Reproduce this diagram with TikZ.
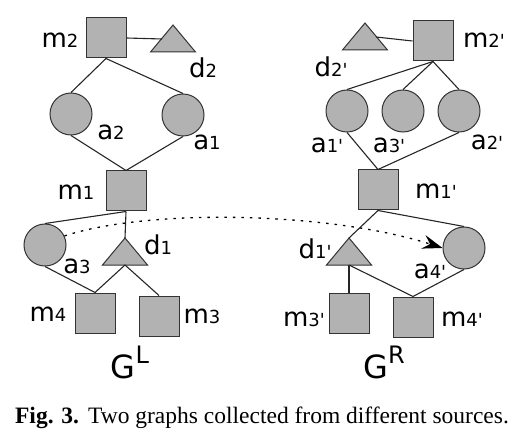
\documentclass[tikz,border=0pt]{standalone}
\usepackage{fontspec}
\setmainfont{Liberation Serif}
\newfontfamily\lblfont{DejaVu Sans}
\usetikzlibrary{arrows.meta}
\newcommand{\gn}[2]{{\fontsize{26}{26}\selectfont #1}{\fontsize{18}{18}\selectfont #2}}
\newcommand{\pr}{\textquotesingle}
\newcommand{\trinode}[3]{%
  \draw[tri] (#2-22.5,#3+13) -- (#2,#3-14) coordinate (#1-t) -- (#2+22.5,#3+13) -- cycle;
  \coordinate (#1-b) at (#2,#3+13);
  \coordinate (#1-w) at (#2-11,#3);
  \coordinate (#1-e) at (#2+11,#3);
}
\tikzset{
  box/.style={draw=black!80, fill=gray!60, minimum size=40pt, inner sep=0pt, line width=1pt},
  agent/.style={circle, draw=black!80, fill=gray!60, minimum size=42pt, inner sep=0pt, line width=1pt},
  tri/.style={draw=black!80, fill=gray!60, line width=1pt},
  lbl/.style={anchor=base, inner sep=0pt, font=\lblfont},
  edge/.style={line width=1.1pt, black!85},
}

\begin{document}
\begin{tikzpicture}[x=1pt, y=-1pt]
  \useasboundingbox (0,0) rectangle (532,438);
  % left graph
  \node[box] (m2L) at (106,38) {};
  \node[agent] (a2L) at (71,114) {};
  \node[agent] (a1L) at (183,115) {};
  \node[box] (m1L) at (126,191) {};
  \node[agent] (a3L) at (45,245) {};
  \node[box] (m4L) at (95,313) {};
  \node[box] (m3L) at (159,316) {};
  \trinode{d2L}{173}{39}
  \trinode{d1L}{125}{252}
  \draw[edge] (m2L.east) -- (d2L-w);
  \draw[edge] (m2L.south) -- (a2L.north);
  \draw[edge] (m2L.south) -- (a1L.north);
  \draw[edge] (a2L.south) -- (m1L.north);
  \draw[edge] (a1L.south) -- (m1L.north);
  \draw[edge] (m1L.south) -- (a3L.north);
  \draw[edge] (m1L.south) -- (d1L-t);
  \draw[edge] (a3L.south) -- (m4L.north);
  \draw[edge] (d1L-b) -- (m4L.north);
  \draw[edge] (d1L-b) -- (m3L.north);
  \node[lbl] (lm2L) at (60,48) {\gn{m}{2}};
  \node[lbl] (ld2L) at (203,78) {\gn{d}{2}};
  \node[lbl] (la2L) at (111,140) {\gn{a}{2}};
  \node[lbl] (la1L) at (207,150) {\gn{a}{1}};
  \node[lbl] (lm1L) at (76,200) {\gn{m}{1}};
  \node[lbl] (la3L) at (77,273) {\gn{a}{3}};
  \node[lbl] (ld1L) at (158,254) {\gn{d}{1}};
  \node[lbl] (lm4L) at (48,321) {\gn{m}{4}};
  \node[lbl] (lm3L) at (202,323) {\gn{m}{3}};
  \node[lbl] (gL) at (130,378) {{\fontsize{32}{32}\selectfont G}{\fontsize{24}{24}\selectfont\raisebox{15pt}{L}}};
  % right graph
  \node[box] (m2R) at (433,41) {};
  \node[agent] (a1R) at (347,111) {};
  \node[agent] (a3R) at (403,111) {};
  \node[agent] (a2R) at (459,111) {};
  \node[box] (m1R) at (378,190) {};
  \node[agent] (a4R) at (464,248) {};
  \node[box] (m3R) at (349,313) {};
  \node[box] (m4R) at (413,317) {};
  \trinode{d2R}{365}{37}
  \trinode{d1R}{349}{252}
  \draw[edge] (d2R-e) -- (m2R.west);
  \draw[edge] (m2R.south) -- (a1R.north);
  \draw[edge] (m2R.south) -- (a3R.north);
  \draw[edge] (m2R.south) -- (a2R.north);
  \draw[edge] (a1R.south) -- (m1R.north);
  \draw[edge] (a2R.south) -- (m1R.north);
  \draw[edge] (m1R.south) -- (d1R-t);
  \draw[edge] (m1R.south) -- (a4R.north);
  \draw[edge] (d1R-b) -- (m3R.north);
  \draw[edge] (d1R-b) -- (m4R.north);
  \draw[edge] (a4R.south) -- (m4R.north);
  \node[lbl] (ld2R) at (331,77) {\gn{d}{2\pr}};
  \node[lbl] (lm2R) at (484,48) {\gn{m}{2\pr}};
  \node[lbl] (la1R) at (327,153) {\gn{a}{1\pr}};
  \node[lbl] (la3R) at (389,153) {\gn{a}{3\pr}};
  \node[lbl] (la2R) at (487,150) {\gn{a}{2\pr}};
  \node[lbl] (lm1R) at (436,199) {\gn{m}{1\pr}};
  \node[lbl] (ld1R) at (315,258) {\gn{d}{1\pr}};
  \node[lbl] (la4R) at (430,278) {\gn{a}{4\pr}};
  \node[lbl] (lm3R) at (304,326) {\gn{m}{3\pr}};
  \node[lbl] (lm4R) at (462,326) {\gn{m}{4\pr}};
  \node[lbl] (gR) at (384,378) {{\fontsize{32}{32}\selectfont G}{\fontsize{24}{24}\selectfont\raisebox{15pt}{R}}};
  % mapping
  \draw[line width=1.3pt, dash pattern=on 2.5pt off 6pt, -{Stealth[length=20pt, width=14pt, inset=7pt]}]
    (a3L.25) .. controls (150,208) and (330,212) .. (a4R.west);
  \node[anchor=base, font=\fontsize{23.5}{24}\selectfont] (cap) at (262,423)
    {\textbf{Fig. 3.}\hspace{9pt}Two graphs collected from different sources.};
\end{tikzpicture}
\end{document}
